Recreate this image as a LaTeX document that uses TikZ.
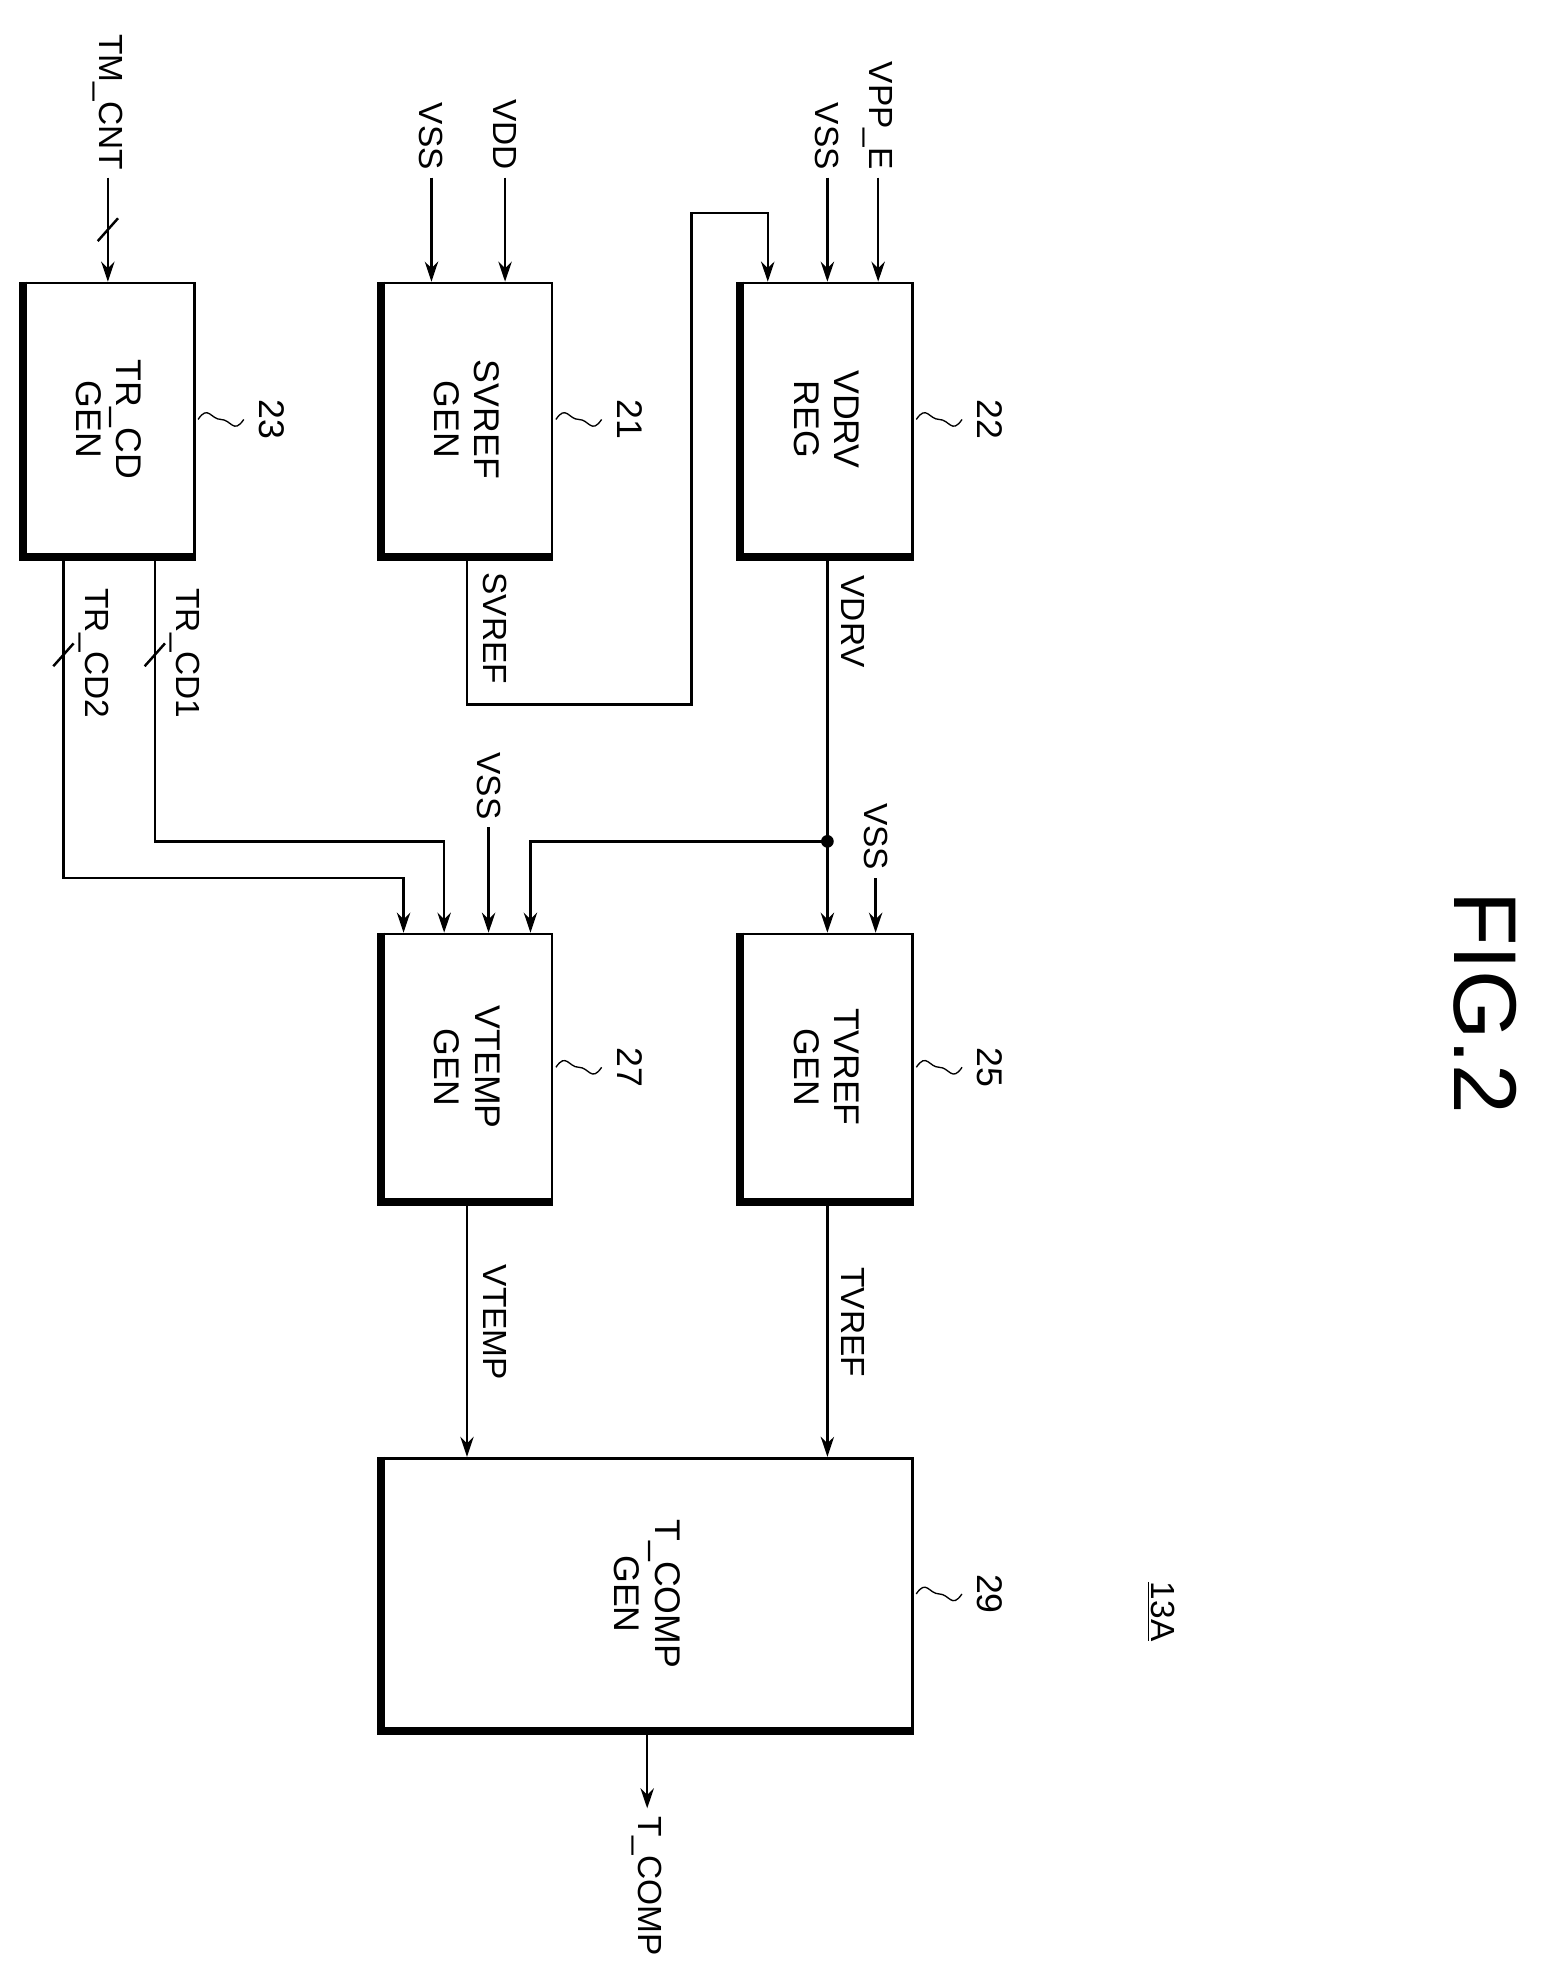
\documentclass[tikz,border=0pt]{standalone}
\usepackage{fontspec}
\setmainfont{Liberation Sans}
\usetikzlibrary{arrows.meta,positioning}
\begin{document}
\begin{tikzpicture}[x=0.02cm,y=-0.02cm,
    blk/.style={rectangle, draw, line width=1.2pt, anchor=north west},
    txt/.style={rotate=-90, align=center, font=\fontsize{16}{18}\selectfont},
    sig/.style={rotate=-90, font=\fontsize{15}{18}\selectfont},
    arrow/.style={-{Stealth[length=9pt,width=6pt]}, line width=1.1pt},
    wire/.style={line width=1.1pt}
]
    \useasboundingbox (0,0) rectangle (1220,1565);
    % blocks
    \node[blk, minimum width=2.68cm, minimum height=4.3cm] (trcd) at (18,222) {};
    \node[blk, minimum width=2.68cm, minimum height=4.3cm] (svref) at (300,222) {};
    \node[blk, minimum width=2.7cm, minimum height=4.3cm] (vdrv) at (583,222) {};
    \node[blk, minimum width=2.68cm, minimum height=4.2cm] (vtemp) at (300,735) {};
    \node[blk, minimum width=2.7cm, minimum height=4.2cm] (tvref) at (583,735) {};
    \node[blk, minimum width=8.36cm, minimum height=4.28cm] (tcomp) at (300,1148) {};
    \foreach \b in {trcd,svref,vdrv,vtemp,tvref,tcomp}
        \draw[line width=3.5pt] (\b.north west) -- (\b.south west) -- (\b.south east);
    \node[txt] at (trcd.center) {TR\_CD\\GEN};
    \node[txt] at (svref.center) {SVREF\\GEN};
    \node[txt] at (vdrv.center) {VDRV\\REG};
    \node[txt] at (vtemp.center) {VTEMP\\GEN};
    \node[txt] at (tvref.center) {TVREF\\GEN};
    \node[txt] at (tcomp.center) {T\_COMP\\GEN};
    % reference numbers
    \foreach \b/\n in {trcd/23,svref/21,vdrv/22,vtemp/27,tvref/25,tcomp/29} {
        \draw[line width=0.6pt] (\b.east) ++(2,0) .. controls +(8,-12) and +(-8,0) .. ++(18,0)
            .. controls +(8,0) and +(-8,12) .. ++(18,0);
        \node[txt] at ([xshift=1.2cm]\b.east) {\n};
    }
    % inputs
    \coordinate (tmcnt) at (85,140);
    \node[sig, anchor=east] at (tmcnt) {TM\_CNT};
    \draw[arrow] (tmcnt) -- (tmcnt |- trcd.north);
    \draw[wire] (77,190) -- (93,172);
    \coordinate (vss1) at (340,140);
    \node[sig, anchor=east] at (vss1) {VSS};
    \draw[arrow] (vss1) -- (vss1 |- svref.north);
    \coordinate (vdd) at (398,140);
    \node[sig, anchor=east] at (vdd) {VDD};
    \draw[arrow] (vdd) -- (vdd |- svref.north);
    \coordinate (vss2) at (652,140);
    \node[sig, anchor=east] at (vss2) {VSS};
    \draw[arrow] (vss2) -- (vss2 |- vdrv.north);
    \coordinate (vpp) at (692,140);
    \node[sig, anchor=east] at (vpp) {VPP\_E};
    \draw[arrow] (vpp) -- (vpp |- vdrv.north);
    % SVREF feedback
    \draw[arrow] (368,437) -- (368,555) -- (545,555) -- (545,168) -- (605,168) -- (605,222);
    \node[sig] at (390,495) {SVREF};
    % VDRV
    \coordinate (dot) at (652,663);
    \draw[arrow] (652,437) -- (652,735);
    \node[sig] at (672,490) {VDRV};
    \fill (dot) circle (5);
    \draw[arrow] (dot) -- (418,663) -- (418,735);
    \coordinate (vss3) at (690,692);
    \node[sig, anchor=east] at (vss3) {VSS};
    \draw[arrow] (vss3) -- (vss3 |- tvref.north);
    \coordinate (vss4) at (385,652);
    \node[sig, anchor=east] at (vss4) {VSS};
    \draw[arrow] (vss4) -- (vss4 |- vtemp.north);
    % TR_CD outputs
    \draw[arrow] (122,437) -- (122,663) -- (350,663) -- (350,735);
    \draw[arrow] (50,437) -- (50,692) -- (318,692) -- (318,735);
    \draw[wire] (114,525) -- (130,507);
    \draw[wire] (42,525) -- (58,507);
    \node[sig] at (146,515) {TR\_CD1};
    \node[sig] at (74,515) {TR\_CD2};
    % outputs
    \draw[arrow] (368,945) -- (368,1148);
    \node[sig] at (390,1042) {VTEMP};
    \draw[arrow] (652,945) -- (652,1148);
    \node[sig] at (672,1042) {TVREF};
    \coordinate (tc) at (510,1425);
    \draw[arrow] (510,1362) -- (tc);
    \node[sig, anchor=west] at (tc) {T\_COMP};
    \node[rotate=-90, font=\fontsize{40}{44}\selectfont] at (1170,790) {FIG.2};
    \node[sig] at (915,1270) {\underline{13A}};
\end{tikzpicture}
\end{document}
